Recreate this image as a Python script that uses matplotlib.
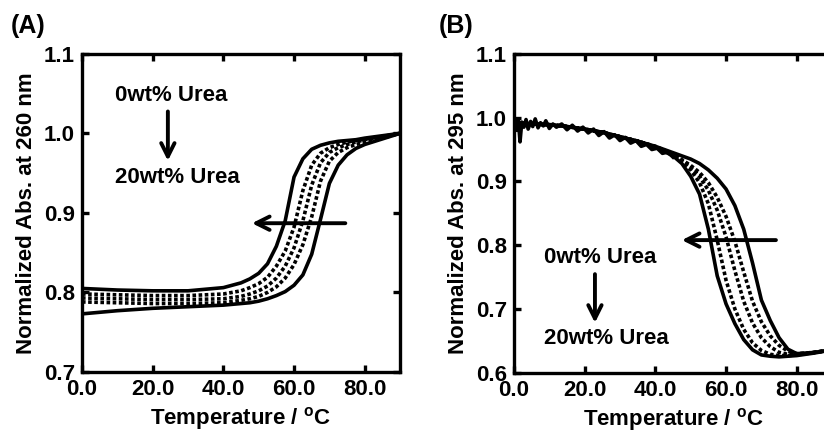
import numpy as np
import matplotlib.pyplot as plt

plt.rcParams.update(
    {
        "font.family": ["Liberation Sans", "DejaVu Sans"],
        "font.weight": "bold",
        "axes.labelweight": "bold",
        "mathtext.fontset": "custom",
        "mathtext.rm": "Liberation Sans:bold",
        "mathtext.bf": "Liberation Sans:bold",
        "axes.linewidth": 2.4,
        "xtick.direction": "in",
        "ytick.direction": "in",
        "xtick.top": True,
        "ytick.right": True,
        "xtick.major.size": 5,
        "ytick.major.size": 5,
        "xtick.major.width": 2.4,
        "ytick.major.width": 2.4,
        "xtick.labelsize": 16,
        "ytick.labelsize": 16,
        "axes.labelsize": 16,
    }
)

# ---- panel A: absorbance at 260 nm ----
temp_a = [0, 10, 20, 30, 40, 45, 47.5, 50, 52.5, 55, 57.5, 60, 62.5, 65, 67.5, 70, 72.5, 75, 77.5, 80, 85, 90]
a_urea0 = [0.773, 0.777, 0.780, 0.782, 0.784, 0.786, 0.787, 0.789, 0.792, 0.796, 0.801, 0.809, 0.822, 0.848, 0.892,
           0.937, 0.960, 0.973, 0.981, 0.986, 0.993, 1.000]
a_urea5 = [0.788, 0.787, 0.786, 0.786, 0.787, 0.790, 0.792, 0.795, 0.800, 0.807, 0.818, 0.835, 0.860, 0.895, 0.940,
           0.965, 0.976, 0.982, 0.986, 0.989, 0.994, 1.000]
a_urea10 = [0.793, 0.792, 0.791, 0.791, 0.792, 0.795, 0.798, 0.802, 0.808, 0.818, 0.833, 0.856, 0.890, 0.935, 0.963,
            0.976, 0.982, 0.986, 0.989, 0.992, 0.996, 1.000]
a_urea15 = [0.798, 0.797, 0.796, 0.796, 0.798, 0.802, 0.806, 0.811, 0.819, 0.833, 0.852, 0.882, 0.928, 0.960, 0.975,
            0.982, 0.986, 0.989, 0.991, 0.993, 0.996, 1.000]
a_urea20 = [0.805, 0.803, 0.802, 0.802, 0.806, 0.812, 0.817, 0.824, 0.836, 0.858, 0.890, 0.945, 0.968, 0.980, 0.985,
            0.988, 0.990, 0.991, 0.992, 0.994, 0.997, 1.000]

# ---- panel B: absorbance at 295 nm ----
temp_b = [0, 5, 10, 15, 20, 25, 30, 35, 40, 45, 47.5, 50, 52.5, 55, 57.5, 60, 62.5, 65, 67.5, 70, 72.5, 75, 77.5,
          80, 85, 90]
b_start = [0.992, 0.990, 0.989, 0.986, 0.982, 0.977, 0.970, 0.963, 0.954]
b_urea0 = b_start[:8] + [0.955, 0.945, 0.940, 0.935, 0.928, 0.918, 0.905, 0.888, 0.862, 0.825, 0.772, 0.714, 0.682,
                         0.655, 0.637, 0.630, 0.632, 0.636]
b_urea5 = b_start[:8] + [0.955, 0.943, 0.934, 0.925, 0.914, 0.898, 0.875, 0.845, 0.806, 0.758, 0.712, 0.680, 0.658,
                         0.643, 0.634, 0.630, 0.632, 0.636]
b_urea10 = b_start + [0.942, 0.933, 0.922, 0.908, 0.886, 0.855, 0.813, 0.760, 0.712, 0.678, 0.655, 0.641, 0.632,
                      0.629, 0.628, 0.632, 0.636]
b_urea15 = b_start + [0.941, 0.932, 0.918, 0.898, 0.865, 0.808, 0.745, 0.700, 0.668, 0.647, 0.635, 0.629, 0.627,
                      0.627, 0.628, 0.632, 0.636]
b_urea20 = b_start + [0.940, 0.928, 0.908, 0.880, 0.825, 0.752, 0.708, 0.677, 0.652, 0.636, 0.628, 0.626, 0.625,
                      0.626, 0.627, 0.631, 0.636]
noise_t = [0.3, 0.8, 1.2, 1.7, 2.2, 2.8, 3.4, 4.0, 4.7, 5.3, 6.0, 6.8, 7.5, 8.3, 9.0, 10.0, 11.0, 12.0, 13.5,
           15.0, 16.5, 18.0, 19.5, 21.0, 22.5, 24.0, 25.5, 27.0, 28.5, 30.0, 31.5, 33.0, 34.5, 36.0, 37.5, 39.0,
           40.5, 42.0, 43.5, 45.0]
noise_v = [0.995, 0.980, 0.998, 0.962, 0.993, 0.985, 0.997, 0.982, 0.994, 0.986, 0.998, 0.984, 0.992, 0.987, 0.995,
           0.983, 0.990, 0.985, 0.990, 0.981, 0.988, 0.979, 0.985, 0.976, 0.982, 0.972, 0.978, 0.968, 0.973, 0.964,
           0.969, 0.960, 0.964, 0.955, 0.958, 0.950, 0.952, 0.944, 0.946, 0.938]

dot = (0, (1, 0.7))
lw = 2.6

fig = plt.figure(figsize=(8.24, 4.34), dpi=100)
ax1 = fig.add_axes([0.0995, 0.143, 0.386, 0.733])
ax2 = fig.add_axes([0.6238, 0.141, 0.386, 0.735])

ax1.plot(temp_a, a_urea0, color="black", lw=lw)
for vals in (a_urea5, a_urea10, a_urea15):
    ax1.plot(temp_a, vals, color="black", lw=lw, ls=dot)
ax1.plot(temp_a, a_urea20, color="black", lw=lw)

ax2.plot(temp_b, b_urea0, color="black", lw=lw)
for vals in (b_urea5, b_urea10, b_urea15):
    ax2.plot(temp_b, vals, color="black", lw=lw, ls=dot)
ax2.plot(temp_b, b_urea20, color="black", lw=lw)
ax2.plot(noise_t, noise_v, color="black", lw=lw)

ax1.set_xlim(0, 90)
ax1.set_ylim(0.7, 1.1)
ax1.set_yticks([0.7, 0.8, 0.9, 1.0, 1.1])
ax2.set_xlim(0, 90)
ax2.set_ylim(0.6, 1.1)
ax2.set_yticks([0.6, 0.7, 0.8, 0.9, 1.0, 1.1])
for ax in (ax1, ax2):
    ax.set_xticks([0, 20, 40, 60, 80])
    ax.xaxis.set_major_formatter(lambda v, p: f"{v:.1f}")
    ax.yaxis.set_major_formatter(lambda v, p: f"{v:.1f}")
    ax.tick_params(pad=5)
    ax.set_xlabel(r"Temperature / $^{\mathrm{o}}$C", labelpad=4)
ax1.set_ylabel("Normalized Abs. at 260 nm", labelpad=5)
ax2.set_ylabel("Normalized Abs. at 295 nm", labelpad=5)

arrow = dict(arrowstyle="->", lw=2.8, color="black", mutation_scale=24)
# panel A annotations
ax1.text(9.3, 1.047, "0wt% Urea", fontsize=16, va="center", ha="left")
ax1.text(9.3, 0.944, "20wt% Urea", fontsize=16, va="center", ha="left")
ax1.annotate("", xy=(24.3, 0.962), xytext=(24.3, 1.031), arrowprops=arrow)
ax1.annotate("", xy=(47.3, 0.887), xytext=(75.3, 0.887), arrowprops=arrow)
# panel B annotations
ax2.text(8.5, 0.78, "0wt% Urea", fontsize=16, va="center", ha="left")
ax2.text(8.5, 0.653, "20wt% Urea", fontsize=16, va="center", ha="left")
ax2.annotate("", xy=(22.9, 0.674), xytext=(22.9, 0.759), arrowprops=arrow)
ax2.annotate("", xy=(46.7, 0.808), xytext=(74.9, 0.808), arrowprops=arrow)

fig.text(0.013, 0.94, "(A)", fontsize=18, va="center", ha="left")
fig.text(0.532, 0.94, "(B)", fontsize=18, va="center", ha="left")

fig.savefig("out.png", dpi=100)
